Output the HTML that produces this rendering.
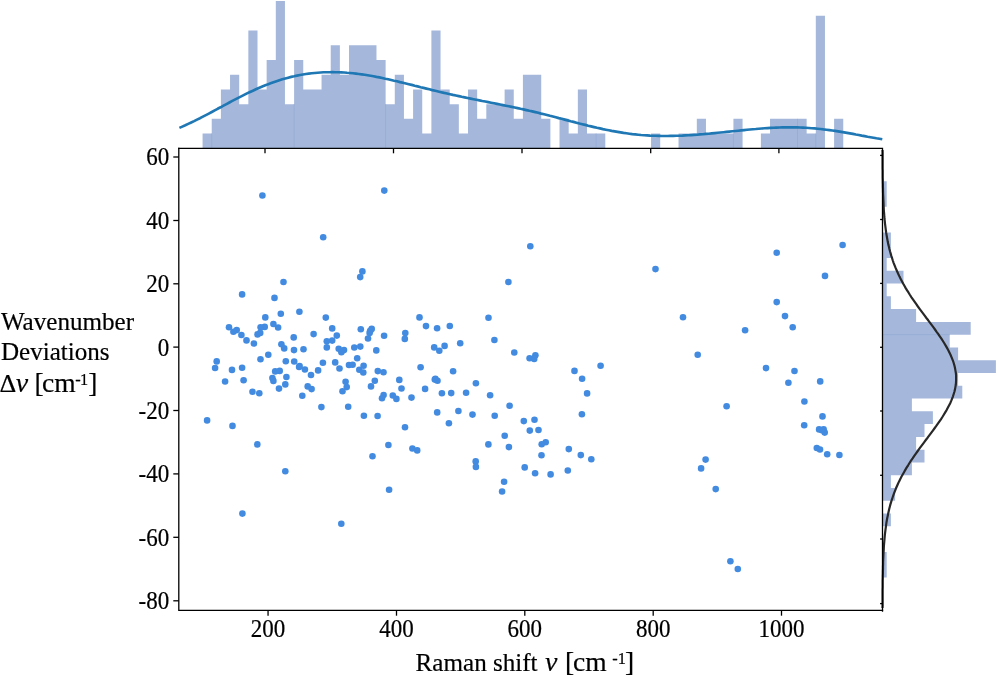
<!DOCTYPE html>
<html><head><meta charset="utf-8"><title>Raman shift jointplot</title>
<style>html,body{margin:0;padding:0;background:#fff}svg{display:block}</style></head>
<body>
<svg width="997" height="676" viewBox="0 0 997 676">
<rect width="997" height="676" fill="#fff"/>
<path d="M202.58 148.3V133.58H211.73V118.86H220.89V89.42H230.04V74.70H239.19V104.14H248.34V30.54H257.50V89.42H266.65V59.98H275.80V1.10H284.95V104.14H294.11V59.98H303.26V89.42H312.41V89.42H321.56V74.70H330.72V45.26H339.87V74.70H349.02V45.26H358.17V45.26H367.33V45.26H376.48V59.98H385.63V104.14H394.78V74.70H403.94V118.86H413.09V89.42H422.24V133.58H431.39V30.54H440.55V89.42H449.70V104.14H458.85V133.58H468.01V89.42H477.16V118.86H486.31V104.14H495.46V104.14H504.62V89.42H513.77V118.86H522.92V74.70H532.07V74.70H541.23V118.86H550.38V148.3ZM559.53 148.3V118.86H568.68V133.58H577.84V89.42H586.99V133.58H596.14V133.58H605.29V148.3ZM651.06 148.3V133.58H660.21V148.3ZM678.52 148.3V133.58H687.67V133.58H696.82V118.86H705.97V133.58H715.13V133.58H724.28V133.58H733.43V118.86H742.58V148.3ZM760.89 148.3V133.58H770.04V118.86H779.19V118.86H788.35V118.86H797.50V118.86H806.65V133.58H815.80V15.82H824.96V148.3ZM834.11 148.3V118.86H843.26V148.3Z" fill="#a5b8db"/>
<path d="M882.5 181.30H886.70V194.08H886.70V206.86H882.5ZM882.5 232.42H890.90V245.20H890.90V257.98H886.70V270.76H903.50V283.54H886.70V296.32H890.90V309.10H916.10V321.88H970.70V334.66H949.70V347.44H958.10V360.22H995.90V373.00H958.10V385.78H962.30V398.56H911.90V411.34H932.90V424.12H924.50V436.90H916.10V449.68H924.50V462.46H911.90V475.24H890.90V488.02H895.10V500.80H882.5ZM882.5 513.58H890.90V526.36H882.5ZM882.5 551.92H886.70V564.70H886.70V577.48H882.5Z" fill="#a5b8db"/>
<g stroke="#93a9d3" stroke-width="0.7" fill="none">
<path d="M211.73 148.3V133.58"/>
<path d="M294.11 148.3V104.14"/>
<path d="M385.63 148.3V104.14"/>
<path d="M596.14 148.3V133.58"/>
<path d="M733.43 148.3V133.58"/>
<path d="M797.50 148.3V118.86"/>
<path d="M815.80 148.3V133.58"/>
<path d="M882.5 334.66H949.70"/>
</g>
<polyline points="179.4,127.9 182.3,126.6 185.3,125.3 188.2,123.9 191.2,122.5 194.1,121.1 197.0,119.6 200.0,118.2 202.9,116.6 205.9,115.1 208.8,113.6 211.8,112.0 214.7,110.4 217.6,108.8 220.6,107.3 223.5,105.7 226.5,104.1 229.4,102.5 232.3,100.9 235.3,99.4 238.2,97.9 241.2,96.4 244.1,94.9 247.0,93.4 250.0,92.0 252.9,90.7 255.9,89.3 258.8,88.0 261.7,86.8 264.7,85.6 267.6,84.4 270.6,83.3 273.5,82.2 276.5,81.2 279.4,80.2 282.3,79.3 285.3,78.5 288.2,77.7 291.2,76.9 294.1,76.3 297.0,75.6 300.0,75.0 302.9,74.5 305.9,74.0 308.8,73.6 311.7,73.3 314.7,73.0 317.6,72.7 320.6,72.5 323.5,72.3 326.5,72.2 329.4,72.2 332.3,72.1 335.3,72.2 338.2,72.3 341.2,72.4 344.1,72.5 347.0,72.8 350.0,73.0 352.9,73.3 355.9,73.6 358.8,74.0 361.7,74.4 364.7,74.8 367.6,75.3 370.6,75.8 373.5,76.3 376.4,76.9 379.4,77.4 382.3,78.0 385.3,78.7 388.2,79.3 391.2,80.0 394.1,80.7 397.0,81.3 400.0,82.1 402.9,82.8 405.9,83.5 408.8,84.2 411.7,84.9 414.7,85.7 417.6,86.4 420.6,87.2 423.5,87.9 426.4,88.6 429.4,89.3 432.3,90.1 435.3,90.8 438.2,91.5 441.1,92.2 444.1,92.9 447.0,93.5 450.0,94.2 452.9,94.9 455.9,95.5 458.8,96.1 461.7,96.8 464.7,97.4 467.6,98.0 470.6,98.6 473.5,99.2 476.4,99.8 479.4,100.4 482.3,101.0 485.3,101.5 488.2,102.1 491.1,102.7 494.1,103.3 497.0,103.9 500.0,104.5 502.9,105.1 505.9,105.7 508.8,106.3 511.7,106.9 514.7,107.5 517.6,108.1 520.6,108.8 523.5,109.4 526.4,110.1 529.4,110.8 532.3,111.4 535.3,112.1 538.2,112.8 541.1,113.6 544.1,114.3 547.0,115.0 550.0,115.8 552.9,116.5 555.8,117.3 558.8,118.1 561.7,118.8 564.7,119.6 567.6,120.4 570.6,121.2 573.5,121.9 576.4,122.7 579.4,123.5 582.3,124.2 585.3,124.9 588.2,125.7 591.1,126.4 594.1,127.1 597.0,127.8 600.0,128.4 602.9,129.1 605.8,129.7 608.8,130.3 611.7,130.9 614.7,131.4 617.6,131.9 620.6,132.4 623.5,132.9 626.4,133.3 629.4,133.7 632.3,134.1 635.3,134.4 638.2,134.7 641.1,135.0 644.1,135.2 647.0,135.4 650.0,135.6 652.9,135.7 655.8,135.8 658.8,135.9 661.7,136.0 664.7,136.0 667.6,136.0 670.5,135.9 673.5,135.9 676.4,135.8 679.4,135.7 682.3,135.6 685.3,135.4 688.2,135.3 691.1,135.1 694.1,134.9 697.0,134.7 700.0,134.4 702.9,134.2 705.8,133.9 708.8,133.7 711.7,133.4 714.7,133.1 717.6,132.8 720.5,132.5 723.5,132.2 726.4,131.9 729.4,131.6 732.3,131.3 735.2,131.0 738.2,130.7 741.1,130.4 744.1,130.1 747.0,129.8 750.0,129.5 752.9,129.2 755.8,129.0 758.8,128.7 761.7,128.5 764.7,128.3 767.6,128.1 770.5,127.9 773.5,127.7 776.4,127.6 779.4,127.5 782.3,127.4 785.2,127.4 788.2,127.3 791.1,127.3 794.1,127.4 797.0,127.4 800.0,127.5 802.9,127.6 805.8,127.8 808.8,128.0 811.7,128.2 814.7,128.4 817.6,128.7 820.5,129.0 823.5,129.4 826.4,129.7 829.4,130.1 832.3,130.5 835.2,130.9 838.2,131.4 841.1,131.9 844.1,132.4 847.0,132.9 849.9,133.4 852.9,133.9 855.8,134.5 858.8,135.0 861.7,135.6 864.7,136.1 867.6,136.7 870.5,137.2 873.5,137.7 876.4,138.3 879.4,138.8 882.3,139.3" fill="none" stroke="#1f77b4" stroke-width="2.65" stroke-linejoin="round"/>
<polyline points="882.5,150.0 882.6,152.3 882.6,154.6 882.6,156.9 882.6,159.2 882.6,161.5 882.6,163.8 882.6,166.1 882.6,168.4 882.7,170.7 882.7,173.0 882.7,175.3 882.7,177.6 882.8,179.9 882.8,182.2 882.9,184.5 882.9,186.8 883.0,189.1 883.0,191.4 883.1,193.7 883.2,196.0 883.3,198.3 883.4,200.6 883.5,202.9 883.6,205.2 883.7,207.5 883.8,209.8 884.0,212.1 884.2,214.4 884.3,216.7 884.5,219.0 884.8,221.3 885.0,223.6 885.3,225.9 885.6,228.3 885.9,230.6 886.2,232.9 886.6,235.2 887.0,237.5 887.4,239.8 887.8,242.1 888.3,244.4 888.9,246.7 889.4,249.0 890.0,251.3 890.7,253.6 891.3,255.9 892.1,258.2 892.8,260.5 893.6,262.8 894.5,265.1 895.4,267.4 896.4,269.7 897.4,272.0 898.4,274.3 899.5,276.6 900.7,278.9 901.9,281.2 903.1,283.5 904.4,285.8 905.7,288.1 907.1,290.4 908.6,292.7 910.0,295.0 911.5,297.3 913.1,299.6 914.7,301.9 916.3,304.2 917.9,306.5 919.6,308.8 921.3,311.1 923.0,313.4 924.7,315.7 926.4,318.0 928.2,320.3 929.9,322.6 931.6,324.9 933.3,327.2 935.0,329.5 936.6,331.8 938.3,334.1 939.8,336.4 941.4,338.7 942.9,341.0 944.3,343.3 945.7,345.6 947.0,347.9 948.3,350.2 949.4,352.5 950.5,354.8 951.5,357.1 952.4,359.4 953.3,361.7 954.0,364.0 954.6,366.3 955.1,368.6 955.5,370.9 955.9,373.2 956.1,375.5 956.1,377.8 956.1,380.2 956.0,382.5 955.8,384.8 955.4,387.1 955.0,389.4 954.4,391.7 953.7,394.0 953.0,396.3 952.1,398.6 951.2,400.9 950.2,403.2 949.0,405.5 947.8,407.8 946.6,410.1 945.2,412.4 943.8,414.7 942.4,417.0 940.9,419.3 939.3,421.6 937.7,423.9 936.1,426.2 934.4,428.5 932.7,430.8 931.0,433.1 929.3,435.4 927.6,437.7 925.8,440.0 924.1,442.3 922.4,444.6 920.7,446.9 919.0,449.2 917.4,451.5 915.7,453.8 914.1,456.1 912.6,458.4 911.0,460.7 909.5,463.0 908.1,465.3 906.6,467.6 905.3,469.9 904.0,472.2 902.7,474.5 901.4,476.8 900.3,479.1 899.1,481.4 898.0,483.7 897.0,486.0 896.0,488.3 895.1,490.6 894.2,492.9 893.4,495.2 892.6,497.5 891.8,499.8 891.1,502.1 890.4,504.4 889.8,506.7 889.2,509.0 888.7,511.3 888.2,513.6 887.7,515.9 887.2,518.2 886.8,520.5 886.4,522.8 886.1,525.1 885.8,527.4 885.5,529.7 885.2,532.1 884.9,534.4 884.7,536.7 884.5,539.0 884.3,541.3 884.1,543.6 883.9,545.9 883.8,548.2 883.7,550.5 883.5,552.8 883.4,555.1 883.3,557.4 883.2,559.7 883.1,562.0 883.1,564.3 883.0,566.6 883.0,568.9 882.9,571.2 882.9,573.5 882.8,575.8 882.8,578.1 882.7,580.4 882.7,582.7 882.7,585.0 882.7,587.3 882.6,589.6 882.6,591.9 882.6,594.2 882.6,596.5 882.6,598.8 882.6,601.1 882.6,603.4 882.6,605.7 882.5,608.0" fill="none" stroke="#282828" stroke-width="2.2" stroke-linejoin="round"/>
<g fill="#428be0">
<circle cx="262.4" cy="195.5" r="3.3"/>
<circle cx="323.2" cy="237.2" r="3.3"/>
<circle cx="283.5" cy="282.0" r="3.3"/>
<circle cx="384.3" cy="190.6" r="3.3"/>
<circle cx="530.3" cy="246.3" r="3.3"/>
<circle cx="362.4" cy="271.4" r="3.3"/>
<circle cx="360.2" cy="277.1" r="3.3"/>
<circle cx="508.4" cy="282.0" r="3.3"/>
<circle cx="419.5" cy="317.4" r="3.3"/>
<circle cx="488.5" cy="317.7" r="3.3"/>
<circle cx="426.0" cy="326.1" r="3.3"/>
<circle cx="449.8" cy="326.0" r="3.3"/>
<circle cx="437.1" cy="328.3" r="3.3"/>
<circle cx="360.8" cy="329.2" r="3.3"/>
<circle cx="371.7" cy="328.9" r="3.3"/>
<circle cx="242.1" cy="294.4" r="3.3"/>
<circle cx="274.5" cy="297.9" r="3.3"/>
<circle cx="299.4" cy="311.7" r="3.3"/>
<circle cx="280.8" cy="313.7" r="3.3"/>
<circle cx="265.3" cy="317.4" r="3.3"/>
<circle cx="325.8" cy="317.6" r="3.3"/>
<circle cx="229.0" cy="327.2" r="3.3"/>
<circle cx="264.7" cy="326.9" r="3.3"/>
<circle cx="260.6" cy="327.2" r="3.3"/>
<circle cx="273.4" cy="324.0" r="3.3"/>
<circle cx="278.1" cy="327.5" r="3.3"/>
<circle cx="332.2" cy="328.4" r="3.3"/>
<circle cx="236.7" cy="330.1" r="3.3"/>
<circle cx="233.4" cy="331.7" r="3.3"/>
<circle cx="241.4" cy="335.0" r="3.3"/>
<circle cx="260.2" cy="332.9" r="3.3"/>
<circle cx="257.5" cy="334.4" r="3.3"/>
<circle cx="313.6" cy="334.1" r="3.3"/>
<circle cx="336.8" cy="335.6" r="3.3"/>
<circle cx="293.7" cy="337.4" r="3.3"/>
<circle cx="246.5" cy="340.4" r="3.3"/>
<circle cx="332.2" cy="340.6" r="3.3"/>
<circle cx="326.8" cy="341.3" r="3.3"/>
<circle cx="253.9" cy="343.5" r="3.3"/>
<circle cx="281.4" cy="344.2" r="3.3"/>
<circle cx="326.8" cy="347.4" r="3.3"/>
<circle cx="284.2" cy="348.4" r="3.3"/>
<circle cx="294.0" cy="350.1" r="3.3"/>
<circle cx="303.5" cy="349.3" r="3.3"/>
<circle cx="338.7" cy="348.7" r="3.3"/>
<circle cx="344.0" cy="350.1" r="3.3"/>
<circle cx="341.4" cy="352.2" r="3.3"/>
<circle cx="268.3" cy="354.7" r="3.3"/>
<circle cx="260.5" cy="359.2" r="3.3"/>
<circle cx="216.7" cy="361.4" r="3.3"/>
<circle cx="285.8" cy="361.2" r="3.3"/>
<circle cx="294.2" cy="361.5" r="3.3"/>
<circle cx="322.9" cy="362.7" r="3.3"/>
<circle cx="335.2" cy="362.4" r="3.3"/>
<circle cx="349.0" cy="365.0" r="3.3"/>
<circle cx="352.6" cy="364.8" r="3.3"/>
<circle cx="299.6" cy="366.0" r="3.3"/>
<circle cx="215.1" cy="368.0" r="3.3"/>
<circle cx="242.1" cy="367.7" r="3.3"/>
<circle cx="232.0" cy="369.9" r="3.3"/>
<circle cx="339.5" cy="368.5" r="3.3"/>
<circle cx="304.9" cy="369.5" r="3.3"/>
<circle cx="318.1" cy="370.4" r="3.3"/>
<circle cx="275.2" cy="371.4" r="3.3"/>
<circle cx="279.7" cy="370.9" r="3.3"/>
<circle cx="311.0" cy="375.0" r="3.3"/>
<circle cx="286.4" cy="377.0" r="3.3"/>
<circle cx="272.4" cy="378.1" r="3.3"/>
<circle cx="273.4" cy="380.9" r="3.3"/>
<circle cx="225.1" cy="381.5" r="3.3"/>
<circle cx="243.6" cy="380.3" r="3.3"/>
<circle cx="285.3" cy="384.4" r="3.3"/>
<circle cx="279.0" cy="388.6" r="3.3"/>
<circle cx="307.7" cy="386.4" r="3.3"/>
<circle cx="311.6" cy="389.1" r="3.3"/>
<circle cx="345.6" cy="381.8" r="3.3"/>
<circle cx="346.7" cy="387.1" r="3.3"/>
<circle cx="342.5" cy="391.3" r="3.3"/>
<circle cx="252.5" cy="391.8" r="3.3"/>
<circle cx="259.3" cy="393.3" r="3.3"/>
<circle cx="302.3" cy="395.7" r="3.3"/>
<circle cx="321.4" cy="407.1" r="3.3"/>
<circle cx="348.2" cy="406.7" r="3.3"/>
<circle cx="207.1" cy="420.4" r="3.3"/>
<circle cx="232.5" cy="425.9" r="3.3"/>
<circle cx="257.3" cy="444.4" r="3.3"/>
<circle cx="369.6" cy="332.9" r="3.3"/>
<circle cx="368.0" cy="338.5" r="3.3"/>
<circle cx="384.1" cy="335.8" r="3.3"/>
<circle cx="405.3" cy="333.1" r="3.3"/>
<circle cx="404.8" cy="338.9" r="3.3"/>
<circle cx="460.2" cy="343.3" r="3.3"/>
<circle cx="444.6" cy="345.9" r="3.3"/>
<circle cx="434.2" cy="347.4" r="3.3"/>
<circle cx="439.3" cy="350.7" r="3.3"/>
<circle cx="360.3" cy="346.6" r="3.3"/>
<circle cx="354.3" cy="347.5" r="3.3"/>
<circle cx="376.3" cy="350.4" r="3.3"/>
<circle cx="357.2" cy="358.2" r="3.3"/>
<circle cx="363.6" cy="365.7" r="3.3"/>
<circle cx="359.3" cy="369.8" r="3.3"/>
<circle cx="363.3" cy="372.5" r="3.3"/>
<circle cx="377.8" cy="371.1" r="3.3"/>
<circle cx="383.5" cy="372.3" r="3.3"/>
<circle cx="420.6" cy="367.2" r="3.3"/>
<circle cx="453.1" cy="371.2" r="3.3"/>
<circle cx="374.8" cy="380.8" r="3.3"/>
<circle cx="371.0" cy="386.4" r="3.3"/>
<circle cx="399.3" cy="379.9" r="3.3"/>
<circle cx="401.5" cy="388.5" r="3.3"/>
<circle cx="435.4" cy="378.7" r="3.3"/>
<circle cx="437.5" cy="380.8" r="3.3"/>
<circle cx="475.9" cy="383.2" r="3.3"/>
<circle cx="425.1" cy="388.9" r="3.3"/>
<circle cx="441.9" cy="393.3" r="3.3"/>
<circle cx="451.2" cy="393.1" r="3.3"/>
<circle cx="466.1" cy="392.8" r="3.3"/>
<circle cx="490.1" cy="395.2" r="3.3"/>
<circle cx="383.6" cy="395.1" r="3.3"/>
<circle cx="382.0" cy="398.2" r="3.3"/>
<circle cx="392.8" cy="395.5" r="3.3"/>
<circle cx="396.4" cy="398.9" r="3.3"/>
<circle cx="411.5" cy="397.6" r="3.3"/>
<circle cx="363.9" cy="415.7" r="3.3"/>
<circle cx="377.6" cy="416.0" r="3.3"/>
<circle cx="437.2" cy="412.4" r="3.3"/>
<circle cx="458.4" cy="411.0" r="3.3"/>
<circle cx="472.5" cy="414.6" r="3.3"/>
<circle cx="448.9" cy="423.2" r="3.3"/>
<circle cx="405.0" cy="427.3" r="3.3"/>
<circle cx="388.4" cy="445.0" r="3.3"/>
<circle cx="412.4" cy="448.5" r="3.3"/>
<circle cx="417.2" cy="450.4" r="3.3"/>
<circle cx="372.5" cy="456.2" r="3.3"/>
<circle cx="488.4" cy="444.4" r="3.3"/>
<circle cx="475.7" cy="461.4" r="3.3"/>
<circle cx="494.4" cy="340.0" r="3.3"/>
<circle cx="514.3" cy="352.5" r="3.3"/>
<circle cx="535.4" cy="355.3" r="3.3"/>
<circle cx="529.6" cy="358.2" r="3.3"/>
<circle cx="534.2" cy="358.9" r="3.3"/>
<circle cx="600.6" cy="365.7" r="3.3"/>
<circle cx="574.5" cy="370.9" r="3.3"/>
<circle cx="582.1" cy="378.8" r="3.3"/>
<circle cx="587.1" cy="393.4" r="3.3"/>
<circle cx="509.6" cy="405.8" r="3.3"/>
<circle cx="581.9" cy="414.2" r="3.3"/>
<circle cx="494.7" cy="415.7" r="3.3"/>
<circle cx="534.5" cy="419.8" r="3.3"/>
<circle cx="523.8" cy="421.1" r="3.3"/>
<circle cx="538.5" cy="430.0" r="3.3"/>
<circle cx="529.8" cy="430.6" r="3.3"/>
<circle cx="504.7" cy="435.7" r="3.3"/>
<circle cx="545.7" cy="442.2" r="3.3"/>
<circle cx="541.7" cy="444.3" r="3.3"/>
<circle cx="508.9" cy="447.1" r="3.3"/>
<circle cx="568.8" cy="449.1" r="3.3"/>
<circle cx="541.5" cy="455.3" r="3.3"/>
<circle cx="580.8" cy="455.1" r="3.3"/>
<circle cx="591.3" cy="459.3" r="3.3"/>
<circle cx="524.7" cy="467.4" r="3.3"/>
<circle cx="285.3" cy="471.2" r="3.3"/>
<circle cx="389.1" cy="489.7" r="3.3"/>
<circle cx="242.4" cy="513.6" r="3.3"/>
<circle cx="341.3" cy="523.8" r="3.3"/>
<circle cx="475.9" cy="466.9" r="3.3"/>
<circle cx="535.1" cy="473.2" r="3.3"/>
<circle cx="550.6" cy="474.4" r="3.3"/>
<circle cx="567.8" cy="470.5" r="3.3"/>
<circle cx="504.1" cy="481.8" r="3.3"/>
<circle cx="502.1" cy="491.5" r="3.3"/>
<circle cx="842.6" cy="245.0" r="3.3"/>
<circle cx="776.7" cy="252.7" r="3.3"/>
<circle cx="655.5" cy="269.1" r="3.3"/>
<circle cx="825.0" cy="275.9" r="3.3"/>
<circle cx="776.7" cy="302.1" r="3.3"/>
<circle cx="683.0" cy="317.2" r="3.3"/>
<circle cx="785.0" cy="316.1" r="3.3"/>
<circle cx="792.7" cy="327.3" r="3.3"/>
<circle cx="745.1" cy="330.3" r="3.3"/>
<circle cx="697.7" cy="354.8" r="3.3"/>
<circle cx="766.0" cy="368.1" r="3.3"/>
<circle cx="794.5" cy="371.0" r="3.3"/>
<circle cx="788.4" cy="382.7" r="3.3"/>
<circle cx="820.2" cy="381.4" r="3.3"/>
<circle cx="804.4" cy="401.5" r="3.3"/>
<circle cx="726.6" cy="406.2" r="3.3"/>
<circle cx="822.5" cy="416.4" r="3.3"/>
<circle cx="804.2" cy="425.2" r="3.3"/>
<circle cx="819.1" cy="429.4" r="3.3"/>
<circle cx="823.6" cy="429.2" r="3.3"/>
<circle cx="824.7" cy="432.6" r="3.3"/>
<circle cx="816.8" cy="448.0" r="3.3"/>
<circle cx="820.0" cy="449.5" r="3.3"/>
<circle cx="827.2" cy="454.3" r="3.3"/>
<circle cx="839.4" cy="455.0" r="3.3"/>
<circle cx="705.6" cy="459.6" r="3.3"/>
<circle cx="701.1" cy="468.4" r="3.3"/>
<circle cx="715.7" cy="489.1" r="3.3"/>
<circle cx="730.4" cy="561.3" r="3.3"/>
<circle cx="737.8" cy="569.0" r="3.3"/>
<circle cx="370.2" cy="330.9" r="3.3"/>
<circle cx="299.1" cy="367.0" r="3.3"/>
<circle cx="434.8" cy="379.6" r="3.3"/>
<circle cx="821.8" cy="430.2" r="3.3"/>
</g>
<g stroke="#000" stroke-width="1.3" fill="none" stroke-linecap="square">
<path d="M178.8 148.3V610.4H882.5"/>
<path d="M178.8 148.3H882.5V611.1999999999999"/>
</g>
<g stroke="#000" stroke-width="1.3" fill="none">
<path d="M173.3 157.0H178.8"/>
<path d="M173.3 220.5H178.8"/>
<path d="M173.3 283.8H178.8"/>
<path d="M173.3 347.1H178.8"/>
<path d="M173.3 410.5H178.8"/>
<path d="M173.3 473.9H178.8"/>
<path d="M173.3 537.3H178.8"/>
<path d="M173.3 600.8H178.8"/>
<path d="M268.05 610.4V615.6999999999999"/>
<path d="M396.5 610.4V615.6999999999999"/>
<path d="M524.8 610.4V615.6999999999999"/>
<path d="M653.2 610.4V615.6999999999999"/>
<path d="M781.5 610.4V615.6999999999999"/>
<path d="M265.0 148.3V153.3"/>
<path d="M393.5 148.3V153.3"/>
<path d="M522.0 148.3V153.3"/>
<path d="M650.7 148.3V153.3"/>
<path d="M778.9 148.3V153.3"/>
<path d="M880.1 155.4H882.5"/>
<path d="M880.1 219.5H882.5"/>
<path d="M880.1 283.4H882.5"/>
<path d="M880.1 347.3H882.5"/>
<path d="M880.1 411.0H882.5"/>
<path d="M880.1 475.3H882.5"/>
<path d="M880.1 539.0H882.5"/>
<path d="M880.1 603.6H882.5"/>
</g>
<g font-family="'Liberation Serif', 'Times New Roman', serif" fill="#000" stroke="#000" stroke-width="0.2">
<text transform="translate(169.2,165.4) scale(1,1.075)" font-size="23.0" text-anchor="end">60</text>
<text transform="translate(169.2,228.9) scale(1,1.075)" font-size="23.0" text-anchor="end">40</text>
<text transform="translate(169.2,292.2) scale(1,1.075)" font-size="23.0" text-anchor="end">20</text>
<text transform="translate(169.2,355.5) scale(1,1.075)" font-size="23.0" text-anchor="end">0</text>
<text transform="translate(169.2,418.9) scale(1,1.075)" font-size="23.0" text-anchor="end">-20</text>
<text transform="translate(169.2,482.3) scale(1,1.075)" font-size="23.0" text-anchor="end">-40</text>
<text transform="translate(169.2,545.7) scale(1,1.075)" font-size="23.0" text-anchor="end">-60</text>
<text transform="translate(169.2,609.2) scale(1,1.075)" font-size="23.0" text-anchor="end">-80</text>
<text transform="translate(268.05,636.5) scale(1,1.075)" font-size="23.0" text-anchor="middle">200</text>
<text transform="translate(396.5,636.5) scale(1,1.075)" font-size="23.0" text-anchor="middle">400</text>
<text transform="translate(524.8,636.5) scale(1,1.075)" font-size="23.0" text-anchor="middle">600</text>
<text transform="translate(653.2,636.5) scale(1,1.075)" font-size="23.0" text-anchor="middle">800</text>
<text transform="translate(781.5,636.5) scale(1,1.075)" font-size="23.0" text-anchor="middle">1000</text>
<text x="0.9" y="330.3" font-size="25.1">Wavenumber</text>
<text x="0.9" y="359.8" font-size="25.1">Deviations</text>
<text font-size="25.1"><tspan x="-0.5" y="391.7" font-size="26">Δ</tspan><tspan x="15.8" y="391.7" font-size="28" font-style="italic">ν</tspan> <tspan x="34.6" y="391.7" font-size="27.5">[</tspan><tspan x="42.1" y="391.7" font-size="27.5">cm</tspan><tspan x="75.2" y="384.6" font-size="16.4">-</tspan><tspan x="80.0" y="384.6" font-size="16.4">1</tspan><tspan x="88.3" y="391.7" font-size="27.5">]</tspan></text>
<text font-size="25.1"><tspan x="415.6" y="670.9">Raman shift </tspan><tspan x="545.0" y="670.9" font-size="28" font-style="italic">ν</tspan> <tspan x="565.0" y="670.9" font-size="27.5">[</tspan><tspan x="573.1" y="670.9" font-size="27.5">cm</tspan> <tspan x="612.2" y="663.6" font-size="16.4">-</tspan><tspan x="617.8" y="663.6" font-size="16.4">1</tspan><tspan x="625.0" y="670.9" font-size="27.5">]</tspan></text>
</g>
</svg>
</body></html>
